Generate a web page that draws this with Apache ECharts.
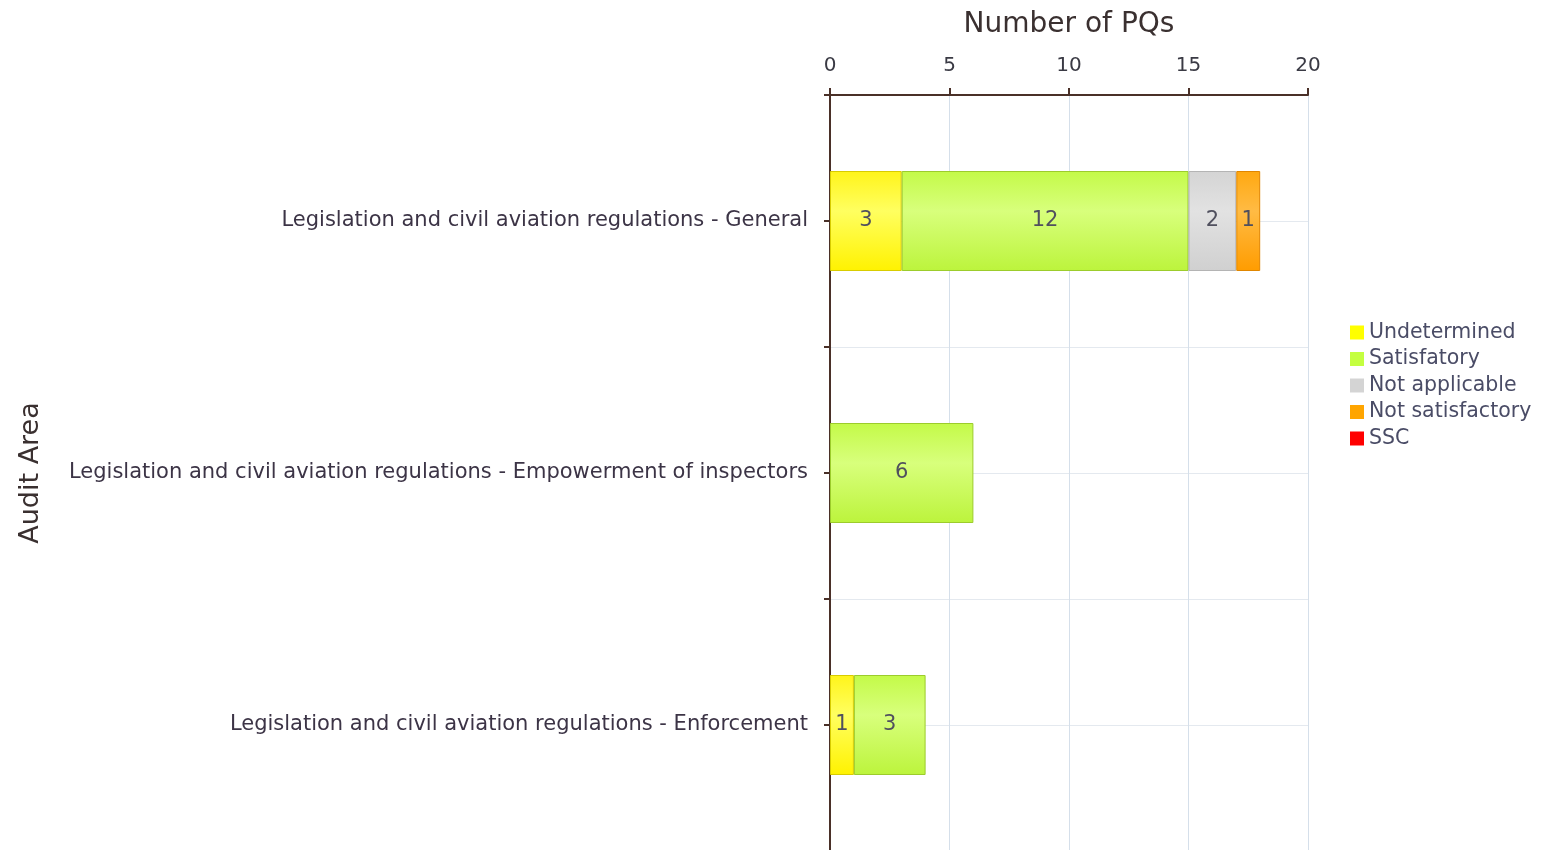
<!DOCTYPE html>
<html>
<head>
<meta charset="utf-8">
<script src="https://cdn.jsdelivr.net/npm/echarts@6/dist/echarts.min.js"></script>
<style>
  html, body { margin: 0; padding: 0; background: #fff; }
  #bartu { width: 1543px; height: 850px; }
</style>
</head>
<body>
<div id="bartu"></div>
<script>
var categories = [
  'Legislation and civil aviation regulations - General',
  'Legislation and civil aviation regulations - Empowerment of inspectors',
  'Legislation and civil aviation regulations - Enforcement'
];
var undetermined = [3, 0, 1];
var satisfactory = [12, 6, 3];
var notApplicable = [2, 0, 0];
var notSatisfactory = [1, 0, 0];
var ssc = [0, 0, 0];
var xTicks = [0, 5, 10, 15, 20];

var fontName = '"DejaVu Sans", sans-serif';

function grad(top, mid, bottom) {
  return new echarts.graphic.LinearGradient(0, 0, 0, 1, [
    { offset: 0, color: top },
    { offset: 0.4, color: mid },
    { offset: 1, color: bottom }
  ]);
}

// 0 -> '-' so empty segments draw no border sliver
function mkSeries(name, data, fill, border) {
  return {
    name: name,
    type: 'bar',
    stack: 'pq',
    data: data.map(function (v) { return v ? v : '-'; }),
    barWidth: 100,
    yAxisIndex: 0,
    itemStyle: {
      color: fill,
      borderColor: border,
      borderWidth: 1
    },
    label: {
      show: true,
      position: 'inside',
      color: '#50505e',
      fontSize: 21,
      fontFamily: fontName
    }
  };
}

function legItem(name, color) {
  return { name: name, itemStyle: { color: color, borderWidth: 0 } };
}

barOption = {
  animation: false,
  textStyle: { fontFamily: fontName },
  grid: {
    left: 830,
    right: 235,
    top: 95,
    bottom: -1,
    containLabel: false,
    outerBoundsMode: 'none'
  },
  legend: {
    orient: 'vertical',
    left: 1345,
    top: 317,
    icon: 'rect',
    itemWidth: 14,
    itemHeight: 14,
    itemGap: 5.5,
    itemTextGap: 13,
    textStyle: { fontSize: 20.5, color: '#4a4c66', fontFamily: fontName, lineHeight: 20 },
    data: [
      legItem('Undetermined', '#ffff00'),
      legItem('Satisfatory', '#c4ff40'),
      legItem('Not applicable', '#d4d4d4'),
      legItem('Not satisfactory', '#ffa500'),
      legItem('SSC', '#ff0000')
    ]
  },
  xAxis: {
    type: 'value',
    position: 'top',
    min: xTicks[0],
    max: xTicks[xTicks.length - 1],
    interval: 5,
    name: 'Number of PQs',
    nameLocation: 'middle',
    nameGap: 56,
    nameTextStyle: { fontSize: 28, color: '#3a3030' },
    axisLine: { show: true, onZero: false, lineStyle: { color: '#4a3028', width: 2 } },
    axisTick: { show: true, length: 7, lineStyle: { color: '#4a3028', width: 2 } },
    axisLabel: { fontSize: 20, color: '#3a3a44', margin: 19 },
    splitLine: { show: true, lineStyle: { color: '#d5dfea', width: 1 } }
  },
  yAxis: [
    {
      type: 'category',
      inverse: true,
      data: categories,
      name: 'Audit Area',
      nameLocation: 'middle',
      nameGap: 786,
      nameRotate: 90,
      nameTextStyle: { fontSize: 27, color: '#3a3030' },
      axisLine: { show: true, onZero: false, lineStyle: { color: '#4a3028', width: 2 } },
      axisTick: { show: false },
      axisLabel: { fontSize: 21, color: '#3c3446', margin: 22 },
      splitLine: { show: false }
    },
    {
      type: 'value',
      position: 'left',
      min: 0,
      max: 6,
      interval: 1,
      axisLine: { show: false },
      axisTick: { show: true, length: 6, lineStyle: { color: '#4a3028', width: 2 } },
      axisLabel: { show: false },
      splitLine: { show: true, lineStyle: { color: '#e4e9ef', width: 1 } }
    }
  ],
  series: [
    mkSeries('Undetermined', undetermined, grad('#fff41a', '#ffff60', '#fff200'), '#d8cc00'),
    mkSeries('Satisfatory', satisfactory, grad('#c4fa48', '#d8ff7c', '#bcf43c'), '#9ccc2c'),
    mkSeries('Not applicable', notApplicable, grad('#d4d4d4', '#e2e2e2', '#d0d0d0'), '#b4b4b4'),
    mkSeries('Not satisfactory', notSatisfactory, grad('#ffa810', '#ffbb44', '#ff9c00'), '#e08600'),
    mkSeries('SSC', ssc, grad('#ff0000', '#ff3030', '#f00000'), '#cc0000')
  ]
};

var barDom = document.getElementById('bartu');
var barChart = echarts.init(barDom);
barOption && barChart.setOption(barOption);
</script>
</body>
</html>
